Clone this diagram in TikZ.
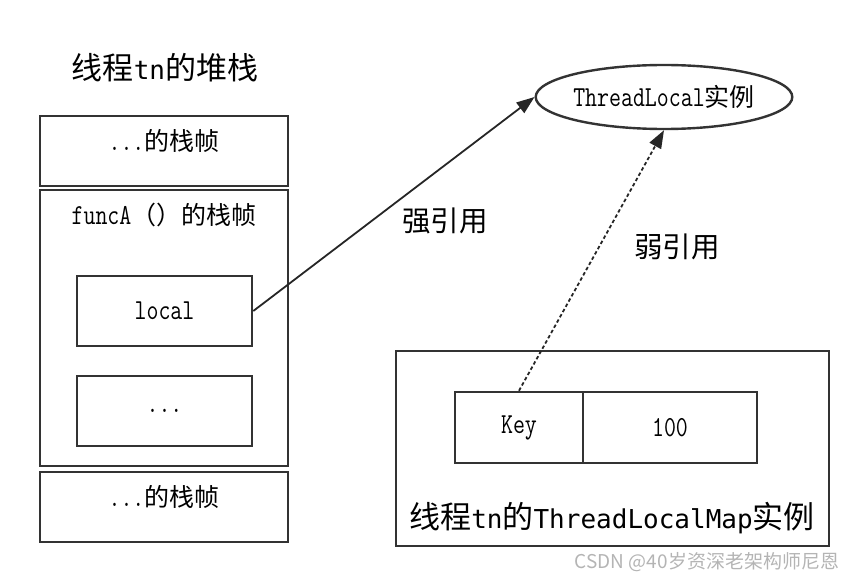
\documentclass[tikz,border=0pt]{standalone}
\usepackage{fontspec}
\newfontfamily\cjk{Noto Sans CJK SC}
\newfontfamily\heimono{DejaVu Sans Mono}
\newfontfamily\songmono{Latin Modern Mono}[FakeStretch=0.8]
\usetikzlibrary{shapes.geometric,arrows.meta}
\definecolor{edge}{HTML}{333333}
\definecolor{wmark}{HTML}{B4B4B4}
\newcommand\zh[1]{{\cjk\fontsize{25}{28}\selectfont #1}}
\newcommand\hl[1]{{\heimono\fontsize{26}{30}\selectfont #1}}

\begin{document}
\begin{tikzpicture}[x=1pt, y=-1pt,
    frame/.style={draw=edge, line width=2.6pt, minimum width=248pt, inner sep=0pt},
    cell/.style={draw=edge, line width=2.6pt, minimum height=71pt, inner sep=0pt},
    mono/.style={font=\songmono\fontsize{29}{32}\selectfont},
    heading/.style={font=\cjk\fontsize{31}{36}\selectfont},
    refname/.style={font=\cjk\fontsize{28.5}{32}\selectfont},
    ref/.style={-{Triangle[length=18pt, width=13pt]}, line width=1.8pt, draw=black!85}]
    \useasboundingbox (0,0) rectangle (861,580);

    % stack of thread tn
    \node[heading] (title) at (165, 68) {线程\hl{tn}的堆栈};
    \node[frame, minimum height=70pt] (frameA) at (164, 151) {};
    \node[frame, minimum height=276pt] (frameB) at (164, 328) {};
    \node[frame, minimum height=70pt] (frameC) at (164, 507) {};
    \node[mono] (frameAtext) at (164, 141) {...\zh{的栈帧}};
    \node[mono] (frameBtext) at (164, 215) {funcA\zh{（）的栈帧}};
    \node[mono] (frameCtext) at (164, 497) {...\zh{的栈帧}};
    \node[cell, mono, minimum width=175pt, minimum height=70pt] (local) at (164.5, 311) {local};
    \node[cell, mono, minimum width=175pt, minimum height=70pt] (other) at (164.5, 411) {...};

    % ThreadLocal instance
    \node[ellipse, draw=edge, line width=2.4pt, minimum width=248pt, minimum height=64pt, inner sep=0pt, mono]
        (tl) at (664, 97) {ThreadLocal\zh{实例}};

    % ThreadLocalMap of thread tn
    \node[draw=edge, line width=2.6pt, minimum width=433pt, minimum height=195pt, inner sep=0pt] (map) at (612.5, 448.5) {};
    \node[cell, mono, minimum width=128pt] (key) at (519, 427.5) {Key};
    \node[cell, mono, minimum width=174pt] (value) at (670, 427.5) {100};
    \node[heading] (maptext) at (612, 518) {线程\hl{tn}的\hl{ThreadLocalMap}实例};

    % references
    \draw[ref] (local.east) -- (tl.west);
    \draw[ref, dash pattern=on 3.5pt off 2.5pt] (key.north) -- (tl.south);
    \node[refname] (strong) at (445, 221) {强引用};
    \node[refname] (weak) at (677, 247) {弱引用};

    \node[font=\cjk\fontsize{19}{22}\selectfont, text=wmark] (csdn) at (707, 562) {CSDN @40岁资深老架构师尼恩};
\end{tikzpicture}
\end{document}
